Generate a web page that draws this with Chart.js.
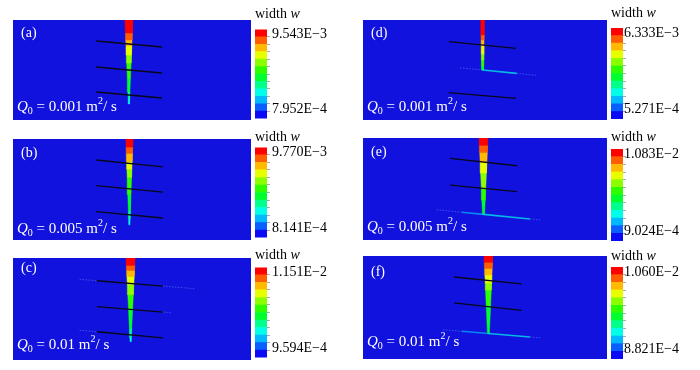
<!DOCTYPE html>
<html>
<head>
<meta charset="utf-8">
<script src="https://cdn.jsdelivr.net/npm/chart.js@4.4.1/dist/chart.umd.min.js"></script>
<style>
  body { margin: 0; width: 700px; height: 370px; background: #fff; position: relative; overflow: hidden;
         font-family: "Liberation Serif", "Times New Roman", serif; }
  canvas { position: absolute; }
  .tag { position: absolute; color: #fff; font-size: 14px; line-height: 14px; white-space: nowrap; }
  .rate { position: absolute; color: #fff; font-size: 15px; line-height: 15px; white-space: nowrap; }
  .rate sub, .rate sup { font-size: 10px; line-height: 0; vertical-align: baseline; position: relative; }
  .rate sub { top: 3px; }
  .rate sup { top: -7px; }
  .cbtitle { position: absolute; color: #000; font-size: 14px; line-height: 14px; white-space: nowrap; }
</style>
</head>
<body>
<script>
const panelNames = ['(a)', '(b)', '(c)', '(d)', '(e)', '(f)'];
const flowRates = ['0.001', '0.005', '0.01', '0.001', '0.005', '0.01'];
const widthMax = [9.543e-3, 9.770e-3, 1.151e-2, 6.333e-3, 1.083e-2, 1.060e-2];
const widthMin = [7.952e-4, 8.141e-4, 9.594e-4, 5.271e-4, 9.024e-4, 8.821e-4];

// contour bands, lowest first
const bandColors = ['#0a0af5', '#0b5fff', '#00b9ff', '#00ffe8', '#00ff8b', '#00ff2e',
                    '#2eff00', '#8bff00', '#e8ff00', '#ffb900', '#ff5d00', '#ff0000'];

// main fracture (model units, 0-100 both ways): centre x, band edges in y, half width there, band of each stretch
const fracX = [48.7, 48.9, 49.4, 49.0, 49.4, 51.4];
const fracY = [
  [100, 87, 80, 74, 65, 57, 42, 28, 21, 16],
  [100, 92, 86, 78, 70, 62, 45, 29, 21, 15],
  [100, 93, 88, 82, 74, 64, 49, 31, 22, 18],
  [100, 85, 80, 74, 66, 60, 54, 50],
  [100, 93, 86, 76.5, 65.7, 51, 39, 25.1],
  [100, 94, 88, 81.6, 73.8, 67, 51.5, 24.8]
];
const fracHalf = [
  [1.68, 1.45, 1.33, 1.22, 1.07, 0.93, 0.66, 0.42, 0.30, 0.21],
  [1.5, 1.38, 1.29, 1.17, 1.04, 0.92, 0.67, 0.42, 0.30, 0.21],
  [1.9, 1.76, 1.65, 1.53, 1.36, 1.16, 0.85, 0.48, 0.29, 0.21],
  [0.74, 0.64, 0.60, 0.56, 0.51, 0.47, 0.43, 0.40],
  [1.84, 1.71, 1.57, 1.39, 1.19, 0.91, 0.68, 0.41],
  [1.78, 1.67, 1.56, 1.44, 1.30, 1.18, 0.89, 0.41]
];
const fracBand = [
  [11, 10, 9, 8, 7, 6, 5, 4, 3],
  [11, 10, 9, 8, 7, 6, 5, 4, 3],
  [11, 10, 9, 8, 7, 6, 5, 4, 3],
  [11, 10, 9, 8, 7, 6, 5],
  [11, 10, 9, 8, 7, 6, 5],
  [11, 10, 9, 8, 7, 6, 5]
];

// closed natural fractures (black): x span, y at left end, y at right end
const natX0 = [35, 35, 35.3, 35.2, 35.7, 37.3];
const natX1 = [62.6, 63, 63, 62.7, 63.1, 65];
const natYL = [[79, 53, 28], [79.2, 53.8, 28], [77.7, 52.3, 27.7], [78.3, 27.3], [80.1, 53.9], [79.6, 54.4]];
const natYR = [[73, 47, 22], [72.3, 47.5, 21.8], [72.5, 47, 21.6], [71.7, 21.7], [72.8, 47.4], [73, 47.3]];

// natural fracture opened by the fluid: [x0, y0, x1, y1] and its band
const openSegs = [[], [], [],
  [[49, 50, 63, 46.6]],
  [[40.5, 27.2, 49.4, 25.1], [49.4, 25.1, 68.4, 20.6]],
  [[40.5, 26.9, 51.4, 24.8], [51.4, 24.8, 68.4, 21.4]]
];
const openBand = [[], [], [], [3], [2, 3], [2, 3]];

// faint traces along natural fractures
const traceSegs = [[], [],
  [[28, 79.1, 35.3, 77.7], [63, 72.5, 76.5, 69.8], [63, 47, 66.8, 46.2], [28, 29.1, 35.3, 27.7]],
  [[39.8, 52.2, 49, 50], [63, 46.6, 71.3, 44.6]],
  [[30.2, 29.7, 40.5, 27.2], [68.4, 20.6, 72.5, 19.6]],
  [[32.8, 28.4, 40.5, 26.9], [68.4, 21.4, 73.3, 20.4]]
];

// page layout (px)
const boxes = [[13, 20, 238, 100], [13, 139, 238, 101], [13, 258, 238, 102],
               [363, 20, 244, 100], [363, 138, 244, 102], [363, 256, 244, 103]];
const bars = [[255, 29, 90], [255, 147, 91], [255, 267, 91], [611, 28, 91], [611, 149, 92], [611, 267, 92]];
const titleBase = [18.5, 141.5, 260, 18, 142, 260.5];
const rateBase = [111.7, 233, 349, 111.7, 231.7, 346.7];
const tagMid = [33.5, 154, 269, 33.5, 153, 272.5];
const labelSpots = [1.3, 11.3];
const bgBlue = '#1212de';

const bgPlugin = {
  id: 'bg',
  beforeDraw(chart) {
    const a = chart.chartArea, ctx = chart.ctx;
    ctx.save();
    ctx.fillStyle = bgBlue;
    ctx.fillRect(a.left, a.top, a.right - a.left, a.bottom - a.top);
    ctx.restore();
  }
};

function makeCanvas(left, top, w, h) {
  const c = document.createElement('canvas');
  c.width = w; c.height = h;
  c.style.left = left + 'px'; c.style.top = top + 'px';
  document.body.appendChild(c);
  return c;
}

function addDiv(cls, html, left, top) {
  const d = document.createElement('div');
  d.className = cls;
  d.innerHTML = html;
  d.style.left = left + 'px'; d.style.top = top + 'px';
  document.body.appendChild(d);
}

function segLine(s, color, width, dash, order) {
  return {
    data: [{x: s[0], y: s[1]}, {x: s[2], y: s[3]}],
    showLine: true, borderColor: color, borderWidth: width, borderDash: dash,
    pointRadius: 0, fill: false, order: order
  };
}

const fmt = v => v.toExponential(3).toUpperCase().replace('-', '\u2212');

panelNames.forEach((name, i) => {
  const [bx, by, bw, bh] = boxes[i];
  const right = i >= 3;
  const datasets = [];

  natYL[i].forEach((yl, k) => datasets.push(segLine([natX0[i], yl, natX1[i], natYR[i][k]], '#08081a', 1.3, [], 0)));
  // opened fractures look thinner and duller than the band colour
  openSegs[i].forEach((s, k) => datasets.push(segLine(s, Chart.helpers.color(bandColors[openBand[i][k]]).alpha(0.7).rgbString(), 1.6, [], 1)));
  traceSegs[i].forEach(s => datasets.push(segLine(s, 'rgba(110,160,255,0.45)', 1, [1.5, 1.5], 2)));

  const ys = fracY[i], hs = fracHalf[i], cx = fracX[i];
  fracBand[i].forEach((b, k) => {
    const c = bandColors[b];
    datasets.push({
      data: [
        {x: cx - hs[k], y: ys[k]}, {x: cx + hs[k], y: ys[k]},
        {x: cx + hs[k + 1], y: ys[k + 1]}, {x: cx - hs[k + 1], y: ys[k + 1]},
        {x: cx - hs[k], y: ys[k]}
      ],
      showLine: true, borderColor: c, backgroundColor: c, borderWidth: 0.5,
      fill: 'shape', pointRadius: 0, order: 3
    });
  });

  new Chart(makeCanvas(bx, by, bw, bh), {
    type: 'scatter',
    data: { datasets },
    options: {
      responsive: false, animation: false, events: [],
      layout: { padding: 0 },
      plugins: { legend: { display: false }, tooltip: { enabled: false } },
      scales: {
        x: { type: 'linear', min: 0, max: 100, display: false },
        y: { type: 'linear', min: 0, max: 100, display: false }
      }
    },
    plugins: [bgPlugin]
  });

  // colour bar
  const [cl, ct, ch] = bars[i];
  new Chart(makeCanvas(cl, ct - 10, 12 + 70, ch + 20), {
    type: 'bar',
    data: {
      labels: [''],
      datasets: bandColors.map(c => ({ data: [1], backgroundColor: c, borderWidth: 0, barPercentage: 1, categoryPercentage: 1 }))
    },
    options: {
      responsive: false, animation: false, events: [],
      layout: { padding: { top: 10, bottom: 10, left: 0, right: 0 } },
      plugins: { legend: { display: false }, tooltip: { enabled: false } },
      scales: {
        x: { display: false, stacked: true },
        y: {
          stacked: true, position: 'right', min: 0, max: 12,
          afterFit: s => { s.width = 70; },
          afterBuildTicks: s => {
            const t = [];
            for (let v = 1; v < 12; v++) t.push({ value: v });
            labelSpots.forEach(v => t.push({ value: v }));
            s.ticks = t;
          },
          border: { display: false },
          grid: {
            drawOnChartArea: false, tickLength: 3,
            tickColor: ctx => (ctx.tick && Number.isInteger(ctx.tick.value)) ? '#a8a8a8' : 'rgba(0,0,0,0)'
          },
          ticks: {
            autoSkip: false, padding: right ? -2 : 2, color: '#000',
            font: { family: 'Liberation Serif', size: 14 },
            callback: v => v === labelSpots[1] ? fmt(widthMax[i]) : (v === labelSpots[0] ? fmt(widthMin[i]) : '')
          }
        }
      }
    }
  });

  addDiv('tag', name, bx + 8, tagMid[i] - 8);
  addDiv('rate', '<i>Q</i><sub>0</sub> = ' + flowRates[i] + ' m<sup>2</sup>/ s', bx + 4, rateBase[i] - 12.5);
  addDiv('cbtitle', 'width <i>w</i>', cl, titleBase[i] - 11.7);
});
</script>
</body>
</html>
